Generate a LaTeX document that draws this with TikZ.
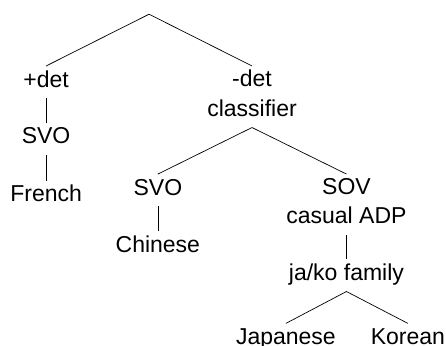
\documentclass[tikz,border=0pt]{standalone}
\usepackage{fontspec}
\setmainfont{Liberation Sans}
\newcommand{\tstrut}{\rule[-7pt]{0pt}{24pt}}

\begin{document}
\begin{tikzpicture}[
    every node/.style={font=\fontsize{23}{29.5}\selectfont, align=center,
        inner sep=4pt, execute at begin node=\tstrut, execute at end node=\tstrut},
    branch/.style={line width=0.7pt}]
\useasboundingbox (0,0) rectangle (15.68,12.13);

\coordinate (root) at (5.24, 11.63);
\node (pdet) at (1.62, 9.81) [below] {+det};
\node (svoa) at (1.62, 7.82) [below] {SVO};
\node (french) at (1.62, 5.78) [below] {French};
\node (mdet) at (8.86, 9.81) [below] {-det\\classifier};
\node (svob) at (5.55, 6.01) [below] {SVO};
\node (chinese) at (5.55, 4.01) [below] {Chinese};
\node (sov) at (12.18, 6.01) [below] {SOV\\casual ADP};
\node (jako) at (12.18, 3.02) [below] {ja/ko family};
\node (japanese) at (10.05, 0.76) [below] {Japanese};
\node (korean) at (14.34, 0.76) [below] {Korean};

\draw[branch] (pdet.north) -- (root) -- (mdet.north);  % top split
\draw[branch] (pdet.south) -- (svoa.north);
\draw[branch] (svoa.south) -- (french.north);
\draw[branch] (svob.north) -- (mdet.south) -- (sov.north);  % classifier
\draw[branch] (svob.south) -- (chinese.north);
\draw[branch] (sov.south) -- (jako.north);
\draw[branch] (japanese.north) -- (jako.south) -- (korean.north);  % ja/ko

\end{tikzpicture}
\end{document}
